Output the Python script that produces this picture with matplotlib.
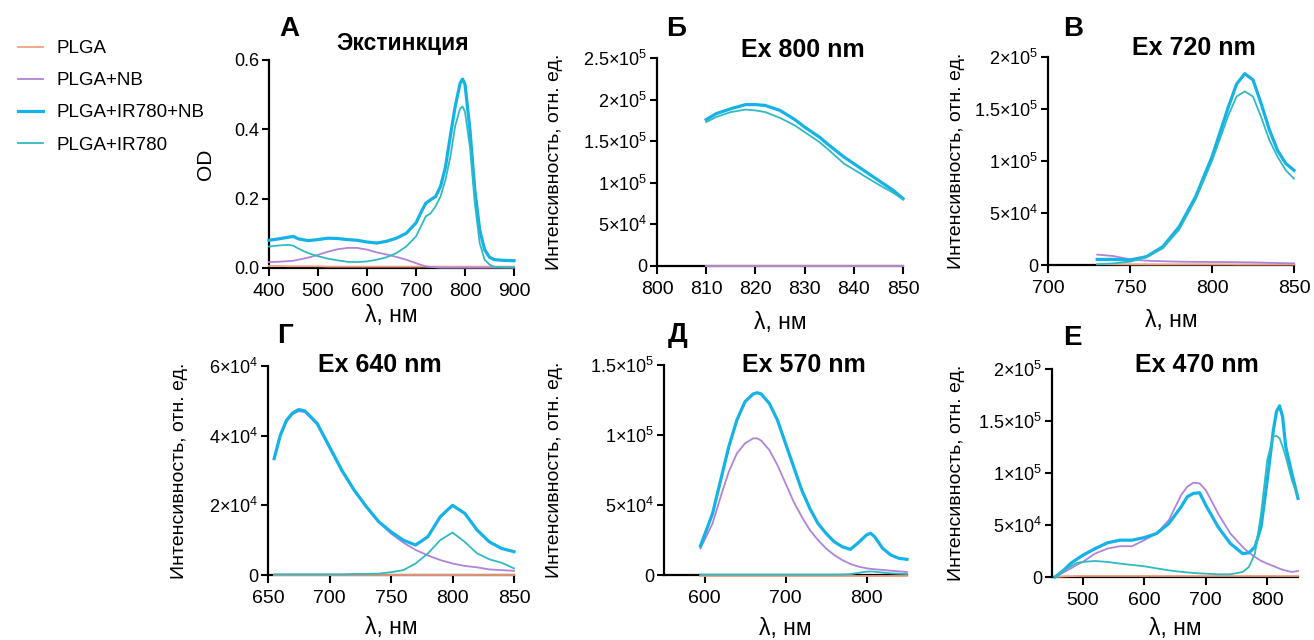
import matplotlib
matplotlib.use("Agg")
import matplotlib.pyplot as plt

plt.rcParams['font.family'] = ['Liberation Sans', 'DejaVu Sans']
plt.rcParams['mathtext.fontset'] = 'custom'
plt.rcParams['mathtext.rm'] = 'Liberation Sans'
plt.rcParams['mathtext.it'] = 'Liberation Sans:italic'
plt.rcParams['mathtext.bf'] = 'Liberation Sans:bold'

W, H = 1314, 640

series_names = ["PLGA", "PLGA+NB", "PLGA+IR780+NB", "PLGA+IR780"]
series_colors = ["#F4A07F", "#AE84DA", "#14B2E6", "#2FBAC2"]
series_widths = [1.3, 1.3, 2.3, 1.3]

# A: extinction
a_wl = [400, 420, 440, 450, 460, 480, 500, 520, 540, 560, 580, 600, 620, 640, 660, 680, 700, 710,
        720, 730, 740, 750, 760, 770, 780, 790, 795, 800, 810, 820, 830, 840, 850, 860, 880, 900]
a_plga = [0.006, 0.006, 0.005, 0.005, 0.005, 0.005, 0.005, 0.004, 0.004, 0.004, 0.004, 0.004,
          0.004, 0.004, 0.004, 0.004, 0.004, 0.004, 0.004, 0.004, 0.004, 0.004, 0.004, 0.004,
          0.004, 0.004, 0.004, 0.004, 0.004, 0.004, 0.004, 0.004, 0.004, 0.004, 0.004, 0.004]
a_nb = [0.017, 0.018, 0.020, 0.021, 0.024, 0.030, 0.038, 0.047, 0.054, 0.058, 0.058, 0.053,
        0.045, 0.039, 0.032, 0.024, 0.014, 0.009, 0.005, 0.003, 0.002, 0.001, 0.001, 0.001,
        0.001, 0.001, 0.001, 0.001, 0.001, 0.001, 0.001, 0.001, 0.001, 0.001, 0.001, 0.001]
a_ir_nb = [0.080, 0.084, 0.089, 0.091, 0.084, 0.079, 0.082, 0.086, 0.085, 0.082, 0.080, 0.075,
           0.072, 0.077, 0.086, 0.100, 0.130, 0.160, 0.187, 0.197, 0.206, 0.235, 0.290, 0.380,
           0.466, 0.533, 0.545, 0.530, 0.400, 0.226, 0.110, 0.053, 0.031, 0.024, 0.022, 0.021]
a_ir = [0.062, 0.065, 0.067, 0.064, 0.056, 0.043, 0.034, 0.027, 0.022, 0.018, 0.017, 0.019,
        0.024, 0.031, 0.043, 0.062, 0.091, 0.120, 0.149, 0.158, 0.178, 0.206, 0.254, 0.320,
        0.410, 0.460, 0.466, 0.450, 0.350, 0.187, 0.072, 0.024, 0.010, 0.003, 0.002, 0.002]

# Б: Ex 800 nm
b_wl = [810, 812, 815, 818, 820, 822, 825, 828, 830, 833, 835, 838, 840, 843, 845, 848, 850]
b_plga = [0] * 17
b_nb = [0] * 17
b_ir_nb = [176e3, 183e3, 189e3, 194e3, 194e3, 193e3, 187e3, 176e3, 167e3, 155e3, 145e3,
           131e3, 123e3, 111e3, 103e3, 91e3, 81e3]
b_ir = [173e3, 179e3, 185e3, 188e3, 187e3, 185e3, 178e3, 169e3, 161e3, 149e3, 139e3,
        123e3, 116e3, 105e3, 98e3, 88e3, 80e3]

# В: Ex 720 nm
c_wl = [730, 740, 750, 760, 770, 780, 790, 800, 810, 815, 820, 825, 830, 835, 840, 845, 850]
c_plga = [800, 700, 600, 500, 500, 500, 500, 500, 500, 400, 400, 400, 400, 400, 400, 400, 400]
c_nb = [10e3, 8.6e3, 5.4e3, 4.2e3, 3.6e3, 3.2e3, 3.0e3, 2.9e3, 2.8e3, 2.7e3, 2.6e3, 2.5e3,
        2.3e3, 2.1e3, 1.9e3, 1.7e3, 1.6e3]
c_ir_nb = [5.4e3, 5.4e3, 4.8e3, 8e3, 17.6e3, 36.8e3, 65.6e3, 104e3, 152e3, 174e3, 184e3,
           178e3, 155e3, 130e3, 110e3, 97.6e3, 91e3]
c_ir = [0.6e3, 1.6e3, 3.2e3, 7.4e3, 16e3, 34e3, 63e3, 100e3, 144e3, 162e3, 167e3, 162e3,
        142e3, 120e3, 104e3, 91e3, 83e3]

# Г: Ex 640 nm
d_wl = [655, 660, 665, 670, 675, 680, 690, 700, 710, 720, 730, 740, 750, 760, 770, 780, 790,
        800, 810, 820, 830, 840, 850]
d_plga = [100] * 23
d_nb = [33.4e3, 40.0e3, 44.0e3, 46.2e3, 47.0e3, 46.8e3, 43.2e3, 36.5e3, 29.8e3, 24.2e3,
        19.5e3, 15.2e3, 11.9e3, 9.3e3, 7.2e3, 5.6e3, 4.3e3, 3.3e3, 2.6e3, 2.2e3, 1.6e3,
        1.4e3, 1.2e3]
d_ir_nb = [33.4e3, 40.1e3, 44.4e3, 46.5e3, 47.5e3, 47.1e3, 43.5e3, 36.8e3, 30.1e3, 24.4e3,
           19.6e3, 15.3e3, 12.4e3, 10.0e3, 8.6e3, 11.0e3, 16.7e3, 20.0e3, 17.7e3, 12.9e3,
           9.5e3, 7.6e3, 6.7e3]
d_ir = [200, 200, 200, 200, 200, 200, 200, 200, 200, 300, 300, 400, 800, 1.4e3, 3.3e3, 6.2e3,
        10.0e3, 12.2e3, 9.5e3, 6.2e3, 4.5e3, 3.5e3, 1.9e3]

# Д: Ex 570 nm
e_wl = [595, 610, 620, 630, 640, 650, 660, 665, 670, 680, 690, 700, 710, 720, 730, 740, 750,
        760, 770, 780, 790, 800, 805, 810, 820, 830, 840, 850]
e_plga = [-800] * 28
e_nb = [19e3, 36.9e3, 56e3, 73.8e3, 86.9e3, 94e3, 97.6e3, 97.6e3, 96e3, 89.3e3, 78.6e3,
        65.5e3, 52.4e3, 41.7e3, 32.1e3, 25e3, 19e3, 14.3e3, 10.7e3, 7.9e3, 6e3, 4.8e3, 4.4e3,
        4.1e3, 3.6e3, 3.1e3, 2.6e3, 2.1e3]
e_ir_nb = [20.7e3, 44e3, 67.9e3, 91.7e3, 110.7e3, 123.8e3, 129.3e3, 130.2e3, 129.3e3, 122.6e3,
           110.7e3, 94e3, 77.4e3, 60.7e3, 47.6e3, 36.9e3, 29.8e3, 23.8e3, 20.2e3, 18.3e3,
           23.1e3, 28.6e3, 29.8e3, 27.4e3, 19e3, 14.3e3, 11.9e3, 11.2e3]
e_ir = [300, 300, 300, 300, 300, 300, 300, 300, 300, 300, 300, 300, 300, 300, 300, 300, 300,
        300, 400, 600, 1.5e3, 2.4e3, 2.5e3, 2.4e3, 1.7e3, 1.2e3, 900, 700]

# Е: Ex 470 nm
f_wl = [455, 470, 480, 490, 500, 520, 540, 560, 580, 600, 620, 640, 660, 670, 680, 690, 700,
        720, 740, 760, 770, 780, 790, 800, 810, 815, 820, 825, 830, 840, 850]
f_plga = [0, 600, 800, 900, 1e3, 1e3, 1e3, 1e3, 1e3, 1e3, 1e3, 1e3, 1e3, 1e3, 1e3, 1e3, 1e3,
          1e3, 1e3, 1e3, 1e3, 1e3, 1e3, 1e3, 1e3, 1e3, 1e3, 1e3, 1e3, 1e3, 1e3]
f_nb = [0, 4.8e3, 8e3, 11.5e3, 14.5e3, 22.5e3, 27.3e3, 29.6e3, 29.6e3, 35.4e3, 41.8e3, 54.7e3,
        78.8e3, 86.8e3, 90.7e3, 90e3, 83.6e3, 61.1e3, 41.8e3, 28.9e3, 23.5e3, 19.3e3, 15.5e3,
        12.9e3, 10.5e3, 9.3e3, 8e3, 7e3, 6.2e3, 4.8e3, 5.8e3]
f_ir_nb = [0, 7e3, 12.9e3, 17e3, 20.9e3, 27.3e3, 32.8e3, 35.4e3, 35.4e3, 37.9e3, 41.8e3,
           51.4e3, 67.5e3, 77.2e3, 80.4e3, 81e3, 69.1e3, 48.2e3, 32.2e3, 22.5e3, 23.2e3,
           28.9e3, 48.2e3, 93.2e3, 141.5e3, 159e3, 164.6e3, 154e3, 125.4e3, 99.7e3, 75.6e3]
f_ir = [0, 6.4e3, 10e3, 13.5e3, 14.5e3, 15.4e3, 14.5e3, 12.9e3, 11.6e3, 10.3e3, 8.3e3, 6.4e3,
        5e3, 4.4e3, 3.9e3, 3.5e3, 3.2e3, 2.6e3, 2.6e3, 4.8e3, 9.6e3, 22.5e3, 61.1e3, 112.5e3,
        135e3, 135.7e3, 133.4e3, 125.4e3, 115.8e3, 93.2e3, 77.2e3]

ylabel_int = "Интенсивность, отн. ед."
xlabel = "λ, нм"


def sci(s):
    return r"$\mathregular{" + s + "}$"


panels = [
    dict(box=(269, 60, 514, 268), letter="А", letter_xy=(279, 36), title="Экстинкция",
         title_xy=(403, 50), title_size=16.5,
         wl=a_wl, ys=[a_plga, a_nb, a_ir_nb, a_ir],
         xlim=(400, 900), xticks=[400, 500, 600, 700, 800, 900],
         ylim=(0, 0.6), yticks=[0, 0.2, 0.4, 0.6], yticklabels=["0.0", "0.2", "0.4", "0.6"],
         ylabel="OD", ylab_size=15, ylab_x=-0.22, xlab_y=-0.175),
    dict(box=(657, 58, 903, 266), letter="Б", letter_xy=(666, 36), title="Ex 800 nm",
         title_xy=(803, 57), title_size=18,
         wl=b_wl, ys=[b_plga, b_nb, b_ir_nb, b_ir],
         xlim=(800, 850), xticks=[800, 810, 820, 830, 840, 850],
         ylim=(0, 2.5e5), yticks=[0, 5e4, 1e5, 1.5e5, 2e5, 2.5e5],
         yticklabels=["0", sci(r"5{\times}10^4"), sci(r"1{\times}10^5"),
                      sci(r"1.5{\times}10^5"), sci(r"2{\times}10^5"), sci(r"2.5{\times}10^5")],
         ylabel=ylabel_int, ylab_size=14, ylab_x=-0.382, xlab_y=-0.215),
    dict(box=(1048, 57, 1294, 265), letter="В", letter_xy=(1063, 36), title="Ex 720 nm",
         title_xy=(1194, 55), title_size=18,
         wl=c_wl, ys=[c_plga, c_nb, c_ir_nb, c_ir],
         xlim=(700, 850), xticks=[700, 750, 800, 850],
         ylim=(0, 2e5), yticks=[0, 5e4, 1e5, 1.5e5, 2e5],
         yticklabels=["0", sci(r"5{\times}10^4"), sci(r"1{\times}10^5"),
                      sci(r"1.5{\times}10^5"), sci(r"2{\times}10^5")],
         ylabel=ylabel_int, ylab_size=14, ylab_x=-0.337, xlab_y=-0.21),
    dict(box=(268, 366, 514, 575), letter="Г", letter_xy=(277, 343), title="Ex 640 nm",
         title_xy=(380, 372), title_size=18,
         wl=d_wl, ys=[d_plga, d_nb, d_ir_nb, d_ir],
         xlim=(650, 850), xticks=[650, 700, 750, 800, 850],
         ylim=(0, 6e4), yticks=[0, 2e4, 4e4, 6e4],
         yticklabels=["0", sci(r"2{\times}10^4"), sci(r"4{\times}10^4"), sci(r"6{\times}10^4")],
         ylabel=ylabel_int, ylab_size=14, ylab_x=-0.325, xlab_y=-0.198),
    dict(box=(664, 365, 907, 575), letter="Д", letter_xy=(668, 342), title="Ex 570 nm",
         title_xy=(804, 372), title_size=18,
         wl=e_wl, ys=[e_plga, e_nb, e_ir_nb, e_ir],
         xlim=(550, 850), xticks=[600, 700, 800],
         ylim=(0, 1.5e5), yticks=[0, 5e4, 1e5, 1.5e5],
         yticklabels=["0", sci(r"5{\times}10^4"), sci(r"1{\times}10^5"), sci(r"1.5{\times}10^5")],
         ylabel=ylabel_int, ylab_size=14, ylab_x=-0.416, xlab_y=-0.198),
    dict(box=(1052, 369, 1298, 577), letter="Е", letter_xy=(1063, 345), title="Ex 470 nm",
         title_xy=(1197, 372), title_size=18,
         wl=f_wl, ys=[f_plga, f_nb, f_ir_nb, f_ir],
         xlim=(450, 850), xticks=[500, 600, 700, 800],
         ylim=(0, 2e5), yticks=[0, 5e4, 1e5, 1.5e5, 2e5],
         yticklabels=["0", sci(r"5{\times}10^4"), sci(r"1{\times}10^5"),
                      sci(r"1.5{\times}10^5"), sci(r"2{\times}10^5")],
         ylabel=ylabel_int, ylab_size=14, ylab_x=-0.354, xlab_y=-0.19),
]

# draw order: PLGA, PLGA+IR780, PLGA+NB, PLGA+IR780+NB
draw_order = [0, 3, 1, 2]

fig = plt.figure(figsize=(W / 100, H / 100), dpi=100)
handles = {}
for p in panels:
    l, t, r, b = p["box"]
    ax = fig.add_axes([l / W, 1 - b / H, (r - l) / W, (b - t) / H])
    for i in draw_order:
        line, = ax.plot(p["wl"], p["ys"][i], color=series_colors[i], lw=series_widths[i],
                        zorder=3 + i * 0.1, clip_on=False)
        handles[i] = line
    ax.set_xlim(*p["xlim"])
    ax.set_ylim(*p["ylim"])
    ax.set_xticks(p["xticks"])
    ax.set_yticks(p["yticks"])
    ax.set_yticklabels(p["yticklabels"])
    for s in ["top", "right"]:
        ax.spines[s].set_visible(False)
    for s in ["left", "bottom"]:
        ax.spines[s].set_linewidth(1.6)
    ax.tick_params(axis="x", length=6, width=1.5, labelsize=14, pad=5)
    ax.tick_params(axis="y", length=5, width=1.5, labelsize=13, pad=2)
    ax.set_xlabel(xlabel, fontsize=16.5)
    ax.xaxis.set_label_coords(0.5, p["xlab_y"])
    ax.set_ylabel(p["ylabel"], fontsize=p["ylab_size"])
    ax.yaxis.set_label_coords(p["ylab_x"], 0.5)
    fig.text(p["title_xy"][0] / W, 1 - p["title_xy"][1] / H, p["title"],
             fontsize=p["title_size"], fontweight="bold", ha="center", va="baseline")
    fig.text(p["letter_xy"][0] / W, 1 - p["letter_xy"][1] / H, p["letter"],
             fontsize=20, fontweight="bold", ha="left", va="baseline")

fig.legend([handles[i] for i in range(4)], series_names, loc="upper left",
           bbox_to_anchor=(18 / W, 1 - 40 / H), frameon=False, fontsize=13.5,
           handlelength=1.33, handletextpad=0.75, labelspacing=0.8,
           borderpad=0, borderaxespad=0)

fig.savefig("out.png", dpi=100)
